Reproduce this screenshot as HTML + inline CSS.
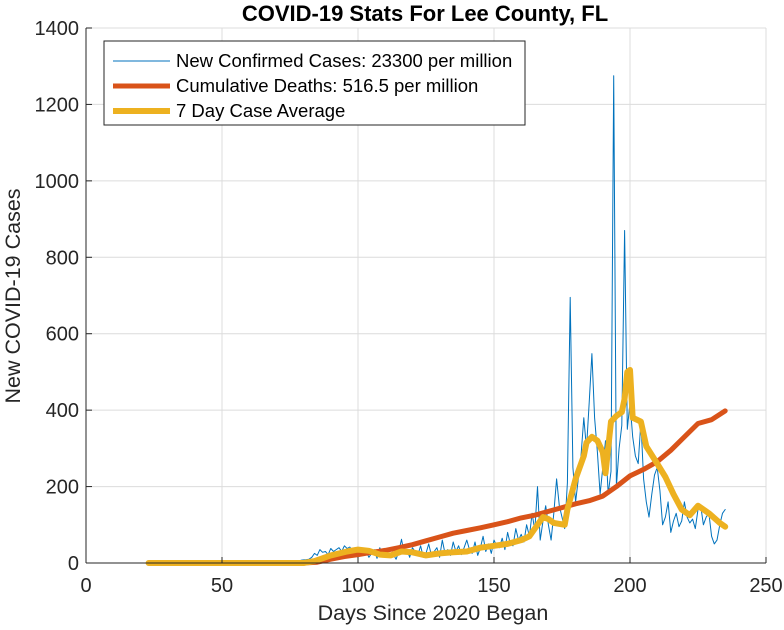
<!DOCTYPE html>
<html><head><meta charset="utf-8"><style>
body{margin:0;background:#fff;}
svg{display:block;font-family:"Liberation Sans",Arial,sans-serif;}
</style></head><body>
<svg id="chart" width="784" height="630" viewBox="0 0 784 630"></svg>
<script>
const caseStartDay = 23;
const newCases = [
0,0,0,0,0,0,0,0,0,0,0,0,0,0,0,0,0,0,0,0,0,0,0,0,0,0,0,0,0,0,0,0,0,0,0,0,0,0,0,0,0,0,
1,0,2,1,2,3,2,3,4,3,5,4,6,5,7,8,9,10,
15,25,20,35,28,30,22,38,30,35,40,30,45,38,42,30,40,35,
28,20,30,15,25,35,12,40,20,30,25,18,22,10,30,62,25,35,15,40,
30,20,45,15,25,50,20,30,40,15,60,25,35,20,55,30,45,22,40,60,
35,25,55,20,40,70,30,50,25,60,45,40,65,35,80,50,45,90,60,75,
55,100,70,130,85,200,60,110,150,100,60,130,220,150,120,90,210,695,250,160,
220,280,380,300,420,548,380,290,180,250,320,180,240,1275,200,300,360,870,350,420,
330,280,260,370,220,160,120,180,230,250,190,100,120,160,80,110,130,95,110,160,
120,105,115,90,140,150,100,120,130,70,50,60,100,130,140];
const avgDays = [23,80,84,90,96,100,104,108,112,116,120,125,130,135,140,145,150,155,160,163,166,168,170,172,176,177,180,183,184,186,188,190,191,193,195,197,198,199,200,201,204,206,210,213,216,219,222,225,229,233,235];
const avgVals = [0,0,5,20,30,35,32,22,20,30,28,20,25,28,30,40,45,50,60,70,100,120,115,105,100,140,220,280,315,330,320,290,235,370,385,395,430,500,505,380,370,305,260,225,180,140,125,150,130,105,95];
const deathDays = [23,80,85,90,95,100,105,110,115,120,125,130,135,140,145,150,155,160,165,170,175,180,185,190,195,200,205,210,215,220,225,230,235];
const deathVals = [0,0,2,10,17,22,28,33,40,48,58,68,78,85,92,100,108,118,125,135,145,155,163,175,200,228,245,265,295,330,365,375,398];
const xTicks = [0,50,100,150,200,250];
const yTicks = [0,200,400,600,800,1000,1200,1400];

const NS="http://www.w3.org/2000/svg";
const svg=document.getElementById('chart');
const X0=86,X1=766,Y0=563,Y1=28;
const xs=v=>X0+(v/250)*(X1-X0);
const ys=v=>Y0-(v/1400)*(Y0-Y1);
function mk(t,a,p){const e=document.createElementNS(NS,t);for(const k in a)e.setAttribute(k,a[k]);(p||svg).appendChild(e);return e;}

const grid=mk('g',{});


xTicks.forEach(t=>{mk('line',{x1:xs(t),x2:xs(t),y1:Y1,y2:Y0,stroke:'#dcdcdc','stroke-width':1},grid);});
yTicks.forEach(t=>{mk('line',{x1:X0,x2:X1,y1:ys(t),y2:ys(t),stroke:'#dcdcdc','stroke-width':1},grid);});

function poly(pts,color,w,name){
  const p=mk('polyline',{points:pts.map(q=>q[0].toFixed(1)+','+q[1].toFixed(1)).join(' '),fill:'none',stroke:color,'stroke-width':w,'stroke-linejoin':'round','stroke-linecap':'round'});
  
  
}
poly(newCases.map((v,i)=>[xs(caseStartDay+i),ys(v)]),'#0072BD',1,'new-cases-line');
poly(deathDays.map((d,i)=>[xs(d),ys(deathVals[i])]),'#D95319',5,'cumulative-deaths-line');
poly(avgDays.map((d,i)=>[xs(d),ys(avgVals[i])]),'#EDB120',6,'seven-day-average-line');

const ax=mk('g',{});


mk('line',{x1:X0,x2:X1,y1:Y0,y2:Y0,stroke:'#262626','stroke-width':1},ax);
mk('line',{x1:X0,x2:X0,y1:Y1,y2:Y0,stroke:'#262626','stroke-width':1},ax);
xTicks.forEach(t=>{
  mk('line',{x1:xs(t),x2:xs(t),y1:Y0,y2:Y0-6,stroke:'#262626'},ax);
  const tx=mk('text',{x:xs(t),y:592,'text-anchor':'middle','font-size':20,fill:'#262626'},ax);tx.textContent=t;
  
  
});
yTicks.forEach(t=>{
  mk('line',{x1:X0,x2:X0+6,y1:ys(t),y2:ys(t),stroke:'#262626'},ax);
  const tx=mk('text',{x:X0-7,y:ys(t)+7,'text-anchor':'end','font-size':20,fill:'#262626'},ax);tx.textContent=t;
  
  
});
</script>
<svg style="position:absolute;left:0;top:0" width="784" height="630">
<text x="425" y="21" text-anchor="middle" font-size="22" font-weight="bold" fill="#000" font-family="Liberation Sans, sans-serif">COVID-19 Stats For Lee County, FL</text>
<text x="433" y="620" text-anchor="middle" font-size="21.5" fill="#262626" font-family="Liberation Sans, sans-serif">Days Since 2020 Began</text>
<text transform="translate(20,296) rotate(-90)" text-anchor="middle" font-size="21.5" fill="#262626" font-family="Liberation Sans, sans-serif">New COVID-19 Cases</text>
<g font-family="Liberation Sans, sans-serif" font-size="18.5" fill="#000">
<rect x="104" y="41" width="421" height="84" fill="#fff" stroke="#262626" stroke-width="1"/>
<line x1="113" x2="170" y1="61" y2="61" stroke="#0072BD" stroke-width="1"/>
<text x="176" y="67">New Confirmed Cases: 23300 per million</text>
<line x1="113" x2="170" y1="86" y2="86" stroke="#D95319" stroke-width="5"/>
<text x="176" y="92">Cumulative Deaths: 516.5 per million</text>
<line x1="113" x2="170" y1="111" y2="111" stroke="#EDB120" stroke-width="6"/>
<text x="176" y="117">7 Day Case Average</text>
</g>
</svg>
</body></html>
